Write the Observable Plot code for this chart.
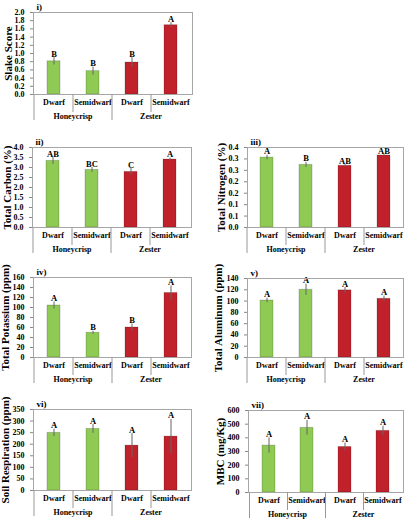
<!DOCTYPE html>
<html>
<head>
<meta charset="utf-8">
<script src="https://cdn.jsdelivr.net/npm/d3@7"></script>
<script src="https://cdn.jsdelivr.net/npm/@observablehq/plot@0.6"></script>
<style>
  body { margin: 0; background: #fff; }
  #charts { position: relative; width: 407px; height: 520px; }
  #charts > div { position: absolute; }
</style>
</head>
<body>
<div id="charts"></div>
<script>
const cultivars = ['Honeycrisp', 'Honeycrisp', 'Zester', 'Zester']
const rootstocks = ['Dwarf', 'Semidwarf', 'Dwarf', 'Semidwarf']

const slake = [0.81, 0.57, 0.78, 1.69]
const slakeErr = [0.09, 0.10, 0.12, 0.06]
const slakeLetters = ['B', 'B', 'B', 'A']
const slakeTicks = [0, 0.2, 0.4, 0.6, 0.8, 1.0, 1.2, 1.4, 1.6, 1.8, 2.0]

const carbon = [3.33, 2.88, 2.78, 3.40]
const carbonErr = [0.17, 0.12, 0.17, 0.07]
const carbonLetters = ['AB', 'BC', 'C', 'A']
const carbonTicks = [0, 0.5, 1.0, 1.5, 2.0, 2.5, 3.0, 3.5, 4.0]

const nitrogen = [0.306, 0.274, 0.270, 0.315]
const nitrogenErr = [0.010, 0.011, 0.005, 0.004]
const nitrogenLetters = ['A', 'B', 'AB', 'AB']
const nitrogenTicks = [0, 0.05, 0.10, 0.15, 0.20, 0.25, 0.30, 0.35]
const nitrogenTickLabels = ['0.0', '0.1', '0.1', '0.2', '0.2', '0.3', '0.3', '0.4']

const potassium = [104, 49.5, 60, 129]
const potassiumErr = [7, 3, 7, 14]
const potassiumLetters = ['A', 'B', 'B', 'A']
const potassiumTicks = [0, 20, 40, 60, 80, 100, 120, 140, 160]

const aluminum = [101, 120, 119, 104]
const aluminumErr = [4, 10, 5, 5]
const aluminumLetters = ['A', 'A', 'A', 'A']
const aluminumTicks = [0, 20, 40, 60, 80, 100, 120, 140]

const respiration = [249, 266, 194, 233]
const respirationErr = [16, 19, 52, 74]
const respirationLetters = ['A', 'A', 'A', 'A']
const respirationTicks = [0, 50, 100, 150, 200, 250, 300, 350]

const mbc = [343, 473, 333, 451]
const mbcErr = [56, 54, 29, 34]
const mbcLetters = ['A', 'A', 'A', 'A']
const mbcTicks = [0, 100, 200, 300, 400, 500, 600]

const keys = cultivars.map((c, i) => c + ' ' + rootstocks[i])

const panels = [
  {tag: 'i)', label: 'Slake Score', values: slake, errs: slakeErr, letters: slakeLetters,
   ticks: slakeTicks, fmt: d3.format('.1f'),
   left: 0, top: 0, width: 203, height: 125, mt: 12, mb: 31, ml: 33, mr: 11, lo: 29},
  {tag: 'ii)', label: 'Total Carbon (%)', values: carbon, errs: carbonErr, letters: carbonLetters,
   ticks: carbonTicks, fmt: d3.format('.1f'),
   left: 0, top: 125, width: 203, height: 130, mt: 22, mb: 28, ml: 32, mr: 12, lo: 29},
  {tag: 'iii)', label: 'Total Nitrogen (%)', values: nitrogen, errs: nitrogenErr, letters: nitrogenLetters,
   ticks: nitrogenTicks, fmt: (d, i) => nitrogenTickLabels[i],
   left: 203, top: 125, width: 204, height: 130, mt: 22, mb: 28, ml: 44, mr: 4, lo: 30},
  {tag: 'iv)', label: 'Total Potassium (ppm)', values: potassium, errs: potassiumErr, letters: potassiumLetters,
   ticks: potassiumTicks, fmt: d3.format('d'),
   left: 0, top: 255, width: 203, height: 130, mt: 22, mb: 28, ml: 33, mr: 12, lo: 32},
  {tag: 'v)', label: 'Total Aluminum (ppm)', values: aluminum, errs: aluminumErr, letters: aluminumLetters,
   ticks: aluminumTicks, fmt: d3.format('d'),
   left: 203, top: 255, width: 204, height: 130, mt: 23, mb: 28, ml: 44, mr: 4, lo: 33},
  {tag: 'vi)', label: 'Soil Respiration (ppm)', values: respiration, errs: respirationErr, letters: respirationLetters,
   ticks: respirationTicks, fmt: d3.format('d'),
   left: 0, top: 385, width: 203, height: 135, mt: 24, mb: 30, ml: 33, mr: 12, lo: 32},
  {tag: 'vii)', label: 'MBC (mg/Kg)', values: mbc, errs: mbcErr, letters: mbcLetters,
   ticks: mbcTicks, fmt: d3.format('d'),
   left: 203, top: 385, width: 204, height: 135, mt: 25, mb: 28, ml: 45, mr: 4, lo: 32},
]

// two level category axis: rootstock under each bar, cultivar under each pair
function groupAxis(index, scales, values, dim) {
  const x = scales.x
  const gap = (x.step() - x.bandwidth()) / 2
  const y0 = dim.height - dim.marginBottom
  const g = d3.create('svg:g')
  keys.forEach((k, i) => {
    const long = i == 0 || cultivars[i] != cultivars[i - 1]
    g.append('line')
      .attr('x1', x(k) - gap).attr('x2', x(k) - gap)
      .attr('y1', y0).attr('y2', y0 + (long ? 26 : 18))
      .attr('stroke', '#999')
  })
  for (const c of d3.union(cultivars)) {
    const ks = keys.filter((k, i) => cultivars[i] == c)
    const cx = d3.mean(ks, k => x(k) + x.bandwidth() / 2)
    g.append('text')
      .attr('x', cx).attr('y', y0 + 25)
      .attr('text-anchor', 'middle')
      .attr('font-size', 8)
      .text(c)
  }
  return g.node()
}

for (const p of panels) {
  const rows = keys.map((k, i) => ({
    key: k, cultivar: cultivars[i], value: p.values[i], err: p.errs[i], letter: p.letters[i]
  }))

  let chart = Plot.plot({
    marks: [
      Plot.barY(rows, {x: 'key', y: 'value', fill: 'cultivar', stroke: 'black', strokeOpacity: 0.18}),
      Plot.ruleX(rows, {x: 'key', y1: d => d.value - d.err, y2: d => d.value + d.err, stroke: '#666'}),
      Plot.text(rows, {x: 'key', y: d => d.value + d.err, text: 'letter', dy: -1,
        lineAnchor: 'bottom', fontSize: 8.5}),
      Plot.frame({stroke: '#a6a6a6'}),
      Plot.axisY({ticks: p.ticks, tickFormat: p.fmt, tickSize: 3, stroke: '#888', fontSize: 8,
        label: p.label, labelAnchor: 'center', labelOffset: p.lo, labelArrow: 'none'}),
      Plot.axisX({tickSize: 0, tickPadding: 5, tickFormat: k => rootstocks[keys.indexOf(k)],
        fontSize: 8, label: null}),
      Plot.text([p.tag], {frameAnchor: 'top-left', dx: 3, dy: -9, fontSize: 9}),
      groupAxis,
    ],
    x: {domain: keys, paddingInner: 0.66, paddingOuter: 0.33},
    y: {domain: [0, d3.max(p.ticks)]},
    color: {domain: ['Honeycrisp', 'Zester'], range: ['#8fca55', '#c1212b']},
    style: {
      fontFamily: '"Liberation Serif", serif',
      fontWeight: 'bold',
      fontSize: '9.5px',
      color: 'black',
      overflow: 'visible',
      maxWidth: 'none',
      width: p.width + 'px',
      height: p.height + 'px'
    },
    width: p.width,
    height: p.height,
    marginTop: p.mt,
    marginBottom: p.mb,
    marginLeft: p.ml,
    marginRight: p.mr
  })

  // the y label is larger than the tick labels, and has no arrow
  d3.select(chart).selectAll('[aria-label="y-axis label"]').attr('font-size', 11)
  d3.select(chart).selectAll('text').each(function () {
    const t = this.textContent
    if (t.includes('↑')) {
      const s = t.replace(/↑/g, '').trim()
      if (s) this.textContent = s
      else this.remove()
    }
  })

  d3.select('#charts').append('div')
    .style('left', p.left + 'px')
    .style('top', p.top + 'px')
    .append(() => chart)
}
</script>
</body>
</html>
